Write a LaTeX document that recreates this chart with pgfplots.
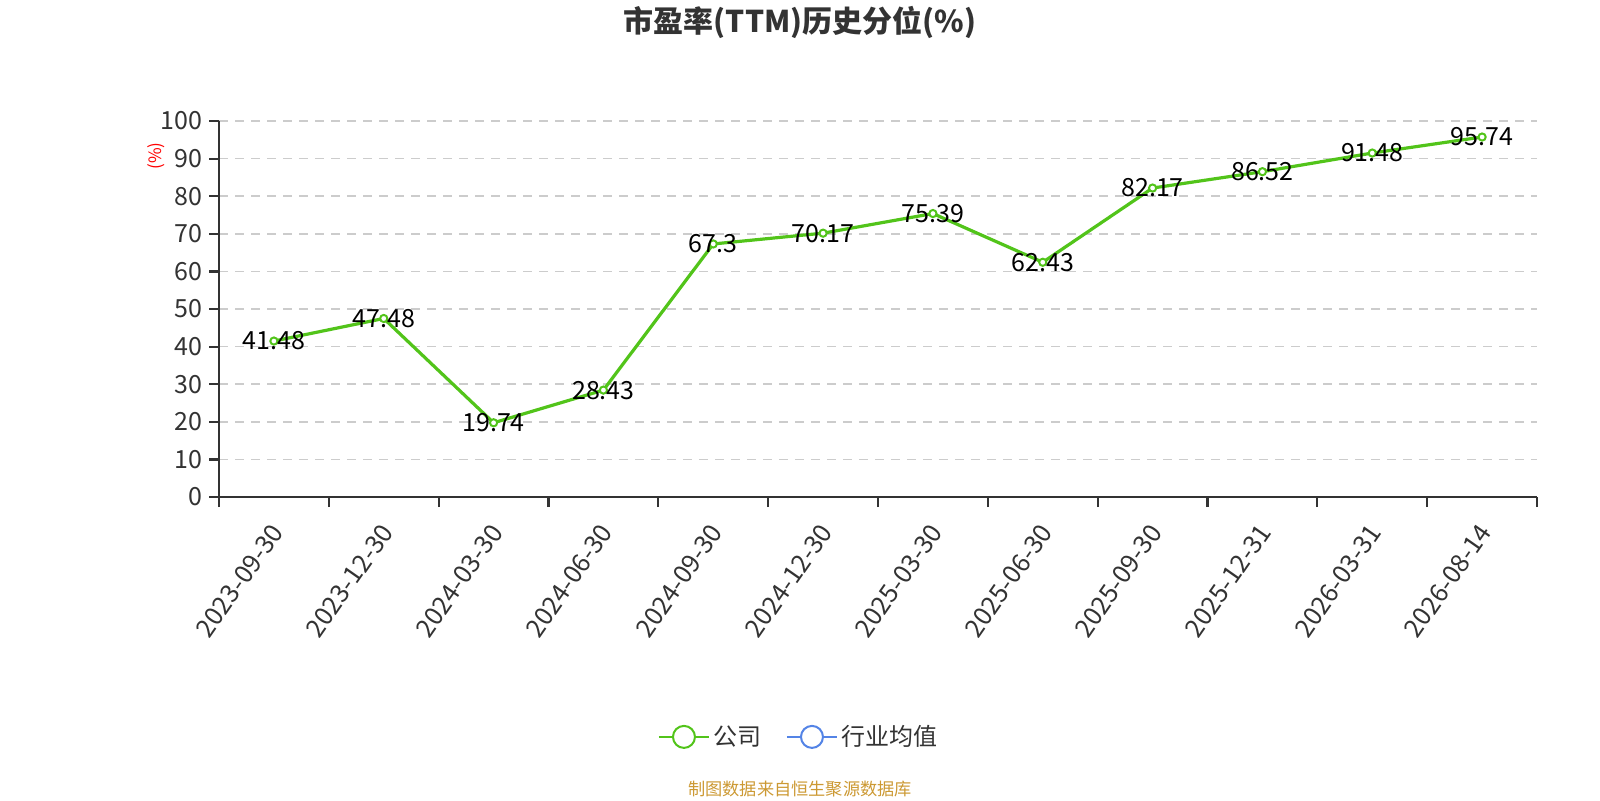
\documentclass[border=0pt]{standalone}
\usepackage{pgfplots}
\pgfplotsset{compat=1.18}
\usepackage{pgfplotstable}
\usepackage{fontspec}
\setmainfont{Noto Sans CJK SC}
\definecolor{cgreen}{RGB}{82,196,26}
\definecolor{cblue}{RGB}{84,132,230}
\definecolor{caxis}{RGB}{51,51,51}
\definecolor{cgrid}{RGB}{204,204,204}
\definecolor{csrc}{RGB}{204,153,51}
\pgfplotstableread{
x y lab
0 41.48 41.48
1 47.48 47.48
2 19.74 19.74
3 28.43 28.43
4 67.3 67.3
5 70.17 70.17
6 75.39 75.39
7 62.43 62.43
8 82.17 82.17
9 86.52 86.52
10 91.48 91.48
11 95.74 95.74
}\data
\begin{document}
\begin{tikzpicture}
\begin{axis}[
  at={(109.5pt,151.5pt)}, anchor=south west,
  scale only axis, width=659pt, height=188pt,
  xmin=-0.5, xmax=11.5, ymin=0, ymax=100,
  axis lines=left,
  axis line style={-, draw=caxis, line width=1.1pt},
  tick align=outside,
  major tick length=5pt,
  tick style={draw=caxis, line width=1.1pt},
  xtick={-0.5,0.5,...,11.5},
  xticklabels={},
  extra x ticks={0,1,...,11},
  extra x tick labels={2023-09-30,2023-12-30,2024-03-30,2024-06-30,2024-09-30,2024-12-30,2025-03-30,2025-06-30,2025-09-30,2025-12-31,2026-03-31,2026-08-14},
  extra x tick style={grid=none, major tick length=0pt,
    tick label style={rotate=55, anchor=east, yshift=-10pt, xshift=-8pt, font=\fontsize{12.7}{14}\selectfont, text=caxis}},
  ytick={0,10,...,100},
  yticklabel style={font=\fontsize{12.5}{14}\selectfont, text=caxis},
  /pgf/number format/assume math mode=true,
  ymajorgrids=true,
  grid style={dash pattern=on 4.3pt off 3.7pt, draw=cgrid, line width=0.8pt},
  ylabel={(\%)},
  ylabel style={at={(axis description cs:-0.0473,0.907)}, anchor=center, rotate=0, text=red, font=\fontsize{8.5}{10}\selectfont},
  legend style={at={(axis description cs:0.4408,-0.638)}, anchor=center, draw=none, fill=none,
    legend columns=2, font=\fontsize{12}{14}\selectfont, text=caxis,
    /tikz/every even column/.append style={column sep=10pt}},
  legend cell align=left,
  clip=false,
]
\addplot[color=cgreen, line width=1.6pt, mark=*, mark size=1.8pt,
  mark options={fill=white, draw=cgreen, line width=1pt},
  nodes near coords, point meta=explicit symbolic,
  every node near coord/.append style={anchor=center, text=black, font=\fontsize{12.5}{14}\selectfont},
  legend image code/.code={
    \draw[cgreen, line width=1pt] (0pt,0pt) -- (25pt,0pt);
    \draw[cgreen, fill=white, line width=1pt] (12.5pt,0pt) circle (5.5pt);
  }]
  table[x=x, y=y, meta=lab]{\data};
\addlegendentry{公司}
\addlegendimage{legend image code/.code={
    \draw[cblue, line width=1pt] (0pt,0pt) -- (25pt,0pt);
    \draw[cblue, fill=white, line width=1pt] (12.5pt,0pt) circle (5.5pt);
  }}
\addlegendentry{行业均值}
\end{axis}
\node[font=\fontsize{15}{17}\selectfont\bfseries, text=caxis] at (400pt,388.75pt) {市盈率(TTM)历史分位(\%)};
\node[font=\fontsize{8.6}{10}\selectfont, text=csrc] at (400pt,5.5pt) {制图数据来自恒生聚源数据库};
\pgfresetboundingbox
\path[use as bounding box] (0,0) rectangle (800pt,400pt);
\end{tikzpicture}
\end{document}
